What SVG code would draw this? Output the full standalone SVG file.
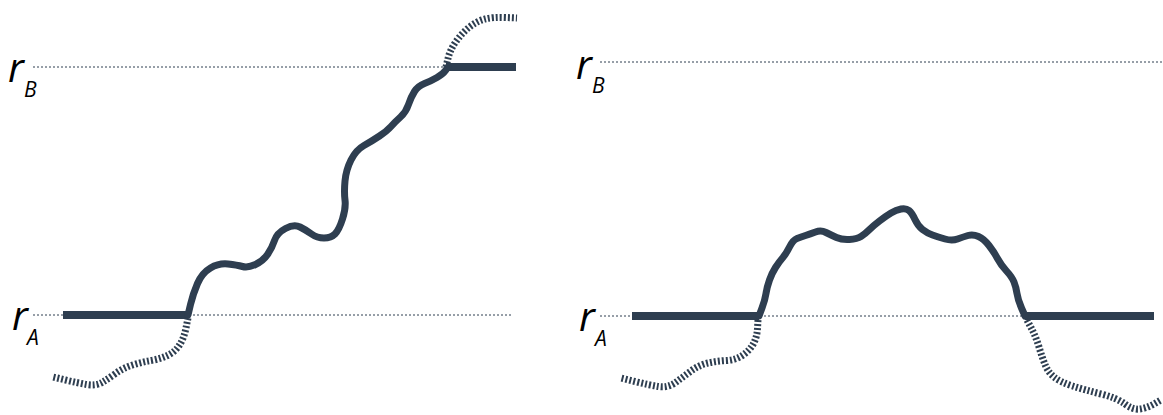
<svg xmlns="http://www.w3.org/2000/svg" width="1163" height="415" viewBox="0 0 1163 415">
<style>
.dot{stroke:#2e3e50;stroke-width:1;stroke-dasharray:2 2;fill:none}
.bar{stroke:#2e3e50;stroke-width:8;fill:none}
.path{stroke:#2e3e50;stroke-width:7;fill:none;stroke-linejoin:round;stroke-linecap:round}
.hatch{stroke:#2e3e50;stroke-width:7;fill:none;stroke-dasharray:2 2}
.r{font-family:"Open Sans","Noto Sans",sans-serif;font-style:italic;font-size:40px;fill:#000}
.s{font-family:"Open Sans","Noto Sans",sans-serif;font-style:italic;font-size:21px;fill:#000}
</style>
<rect width="1163" height="415" fill="#fff"/>
<g id="left-panel">
  <g id="left-rB-label"><text class="r" x="8" y="82">r</text><text class="s" x="24" y="97">B</text></g>
  <g id="left-rA-label"><text class="r" x="12" y="330">r</text><text class="s" x="27" y="345">A</text></g>
  <g id="left-levels">
    <line class="dot" x1="33" y1="67" x2="445" y2="67"/>
    <line class="dot" x1="33" y1="315" x2="512" y2="315"/>
    <line class="bar" x1="63" y1="315" x2="188" y2="315"/>
    <line class="bar" x1="446" y1="67" x2="516" y2="67"/>
  </g>
  <g id="left-paths">
    <path class="path" d="M188,315 L190.5,304.5 Q193,294 197.5,283.5 Q202,273 210.5,268 Q219,263 228,264 Q237,265 242.5,266.5 Q248,268 255.5,264.5 Q263,261 267.5,254.5 Q272,248 274.5,240.5 Q277,233 285.5,228.5 Q294,224 300,227 Q306,230 311.5,234 Q317,238 324,238 Q331,238 335,234 Q339,230 342.5,219 Q346,208 345,200 Q344,192 345,181 Q346,170 351,160 Q356,150 364,145.5 Q372,141 379.5,136 Q387,131 391,126.5 Q395,122 400.5,117 Q406,112 408.5,104.5 Q411,97 414.5,91.5 Q418,86 424.5,83.5 Q431,81 437,77.5 Q443,74 445.5,70.5 L448,67"/>
    <path class="hatch" d="M446,67 L448,58.5 Q450,50 456,41.5 Q462,33 469.5,27 Q477,21 485,19 Q493,17 505,17.5 L517,18"/>
    <path class="hatch" d="M188,318 L186,328 Q184,338 179.5,345 Q175,352 167.5,355.5 Q160,359 151,360.5 Q142,362 132.5,365 Q123,368 115.5,373.5 Q108,379 102,382.5 Q96,386 87,384.5 Q78,383 65.5,380 L53,377"/>
  </g>
</g>
<g id="right-panel">
  <g id="right-rB-label"><text class="r" x="576" y="79">r</text><text class="s" x="592" y="93">B</text></g>
  <g id="right-rA-label"><text class="r" x="579" y="331">r</text><text class="s" x="595" y="346">A</text></g>
  <g id="right-levels">
    <line class="dot" x1="600" y1="62" x2="1163" y2="62"/>
    <line class="dot" x1="600" y1="316" x2="1030" y2="316"/>
    <line class="bar" x1="632" y1="316" x2="759" y2="316"/>
    <line class="bar" x1="1025" y1="316" x2="1154" y2="316"/>
  </g>
  <g id="right-paths">
    <path class="path" d="M759,316 L762,308 Q765,300 766,293.5 Q767,287 769.5,280 Q772,273 775.5,267.5 Q779,262 782.5,258 Q786,254 789.5,247 Q793,240 797,238.5 Q801,237 805.5,235.5 Q810,234 815.5,232 Q821,230 826,232.5 Q831,235 836.5,237.5 Q842,240 849.5,239.5 Q857,239 861,236.5 Q865,234 869,230 Q873,226 879.5,221 Q886,216 891,213 Q896,210 901,209 Q906,208 909,210.5 Q912,213 915,219.5 Q918,226 922.5,229.5 Q927,233 932.5,235 Q938,237 945,239 Q952,241 957.5,239 Q963,237 968,235.5 Q973,234 978.5,236.5 Q984,239 989,245.5 Q994,252 997.5,258.5 Q1001,265 1006.5,271 Q1012,277 1014,282 Q1016,287 1017,293.5 Q1018,300 1021.5,308 L1025,316"/>
    <path class="hatch" d="M758,320 L757.5,328.5 Q757,337 753.5,343.5 Q750,350 743,355 Q736,360 726.5,360.5 Q717,361 708,363 Q699,365 691,371 Q683,377 675.5,382.5 Q668,388 658.5,386.5 Q649,385 635,381.5 L621,378"/>
    <path class="hatch" d="M1027,320 L1031.5,328.5 Q1036,337 1039,347 Q1042,357 1045,364.5 Q1048,372 1054,377 Q1060,382 1072.5,386 Q1085,390 1101,394 Q1117,398 1125,404 Q1133,410 1140,409 Q1147,408 1154,404 L1161,400"/>
  </g>
</g>
</svg>
